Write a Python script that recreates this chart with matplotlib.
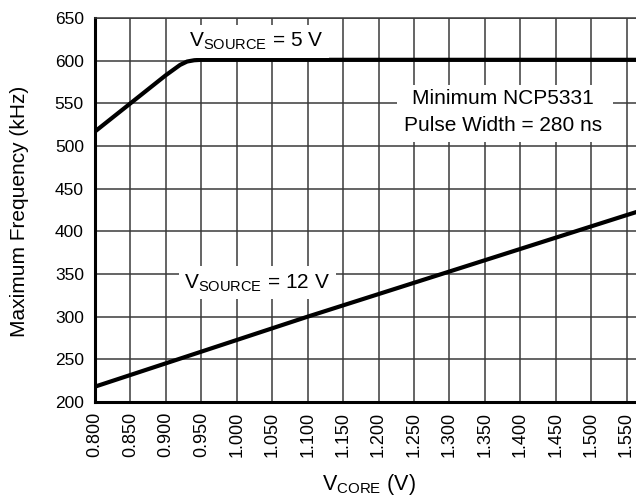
import matplotlib
matplotlib.use("Agg")
import matplotlib.pyplot as plt
from matplotlib.patches import Rectangle

plt.rcParams['font.family'] = ['Liberation Sans', 'DejaVu Sans']

# Data
vcore_5v = [0.800, 0.850, 0.900, 0.920, 0.930, 0.940, 0.950, 1.000, 1.600]
freq_5v = [517, 550, 583, 595, 599, 600.5, 601, 601, 601]
vcore_12v = [0.800, 1.100, 1.550, 1.600]
freq_12v = [218, 300, 419, 432]

xticks = [0.800, 0.850, 0.900, 0.950, 1.000, 1.050, 1.100, 1.150, 1.200,
          1.250, 1.300, 1.350, 1.400, 1.450, 1.500, 1.550]
yticks = [200, 250, 300, 350, 400, 450, 500, 550, 600, 650]

W, H = 636, 500
fig = plt.figure(figsize=(W / 100, H / 100), dpi=100)
left, right, top, bottom = 95, 662, 18, 402
ax = fig.add_axes([left / W, 1 - bottom / H, (right - left) / W, (bottom - top) / H])

ax.set_xlim(0.800, 1.600)
ax.set_ylim(200, 650)
ax.set_xticks(xticks)
ax.set_xticklabels([f"{t:.3f}" for t in xticks], rotation=90, fontsize=13)
ax.set_yticks(yticks)
ax.set_yticklabels([str(t) for t in yticks], fontsize=12.5)
ax.tick_params(axis='x', length=0, pad=7)
ax.tick_params(axis='y', length=0, pad=8)

ax.grid(True, color='#3a3a3a', linewidth=1.1)
ax.set_axisbelow(True)
for s in ['left', 'bottom']:
    ax.spines[s].set_linewidth(2.2)
    ax.spines[s].set_color('black')
ax.spines['top'].set_linewidth(1.1)
ax.spines['top'].set_color('#3a3a3a')
ax.spines['right'].set_visible(False)

ax.plot(vcore_5v, freq_5v, color='black', linewidth=3, solid_joinstyle='round', zorder=3)
ax.plot(vcore_12v, freq_12v, color='black', linewidth=3, zorder=3)

bbox = dict(facecolor='white', edgecolor='none', pad=4)
ax.text(1.028, 616.4, r'V$_{\mathregular{SOURCE}}$ = 5 V', fontsize=15, ha='center', va='baseline',
        bbox=bbox, zorder=4)
ax.text(1.029, 333.6, r'V$_{\mathregular{SOURCE}}$ = 12 V', fontsize=15, ha='center', va='baseline',
        bbox=bbox, zorder=4)

ax.add_patch(Rectangle((1.226, 504.7), 1.5306 - 1.226, 571.5 - 504.7, facecolor='white',
                       edgecolor='none', zorder=4))
ax.text(1.3755, 548.9, 'Minimum NCP5331', fontsize=15, ha='center', va='baseline', zorder=5)
ax.text(1.3755, 517.9, 'Pulse Width = 280 ns', fontsize=15, ha='center', va='baseline', zorder=5)

fig.text(20 / W, 1 - 211 / H, 'Maximum Frequency (kHz)', rotation=90, fontsize=15,
         ha='center', va='center')
fig.text(369 / W, 1 - 490 / H, r'V$_{\mathregular{CORE}}$ (V)', fontsize=15.5,
         ha='center', va='baseline')

fig.savefig('out.png', dpi=100)
